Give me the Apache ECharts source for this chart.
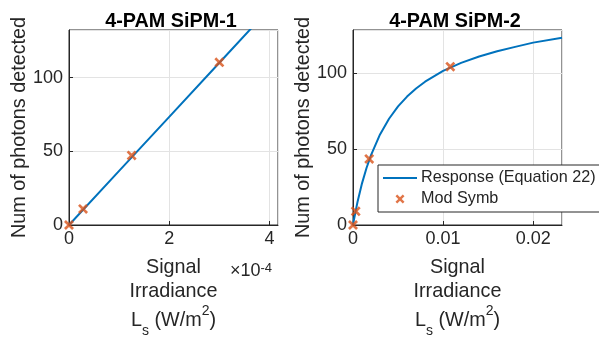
<!DOCTYPE html>
<html>
<head>
<meta charset="utf-8">
<script src="https://cdn.jsdelivr.net/npm/echarts@6/dist/echarts.min.js"></script>
<style>
  html, body { margin: 0; padding: 0; background: #fff; }
  #chart { width: 599px; height: 341px; }
</style>
</head>
<body>
<div id="chart"></div>
<script>
// SiPM-1 response (linear region) and symbol levels
const sipm1LineX = [0, 1e-4, 2e-4, 3e-4, 3.7e-4];
const sipm1LineY = [0, 36.7, 73.4, 110.1, 135.8];
const sipm1SymX = [0, 0.28e-4, 1.25e-4, 3.0e-4];
const sipm1SymY = [0, 10.9, 47.2, 110.4];

// SiPM-2 response (saturating) and symbol levels
const sipm2LineX = [0, 0.0001, 0.0003, 0.0005, 0.001, 0.0015, 0.002, 0.003, 0.004, 0.005,
  0.006, 0.007, 0.008, 0.01, 0.012, 0.014, 0.016, 0.018, 0.02, 0.0232];
const sipm2LineY = [0, 3.3, 9.3, 15.1, 27.4, 37.5, 46, 59.6, 69.9, 78,
  84.5, 89.8, 94.3, 101.4, 106.7, 110.9, 114.3, 117.2, 120, 123.2];
const sipm2SymX = [0, 0.0003, 0.0018, 0.0108];
const sipm2SymY = [0, 9, 43.5, 104.2];

const titles = ["4-PAM SiPM-1", "4-PAM SiPM-2"];
const seriesNames = ["Response (Equation 22)", "Mod Symb"];
const yName = "Num of photons detected";

const FONT = "Liberation Sans";
const INK = "#262626";
const BLUE = "#0072BD";
const ORANGE = "#D95319";
// bold x marker
const XMARK = "path://M0,1.9 L1.9,0 L5,3.1 L8.1,0 L10,1.9 L6.9,5 L10,8.1 L8.1,10 L5,6.9 L1.9,10 L0,8.1 L3.1,5 Z";
const LINEICON = "path://M0,0 L34,0 L34,2 L0,2 Z";

const zip = (xs, ys) => xs.map((x, i) => [x, ys[i]]);

const xName = "Signal\nIrradiance\n{n|L}{sub|s}{n| (W/m}{sup|2}{n|)}";
const xNameStyle = {
  fontFamily: FONT, fontSize: 19.8, color: INK, lineHeight: 24,
  rich: {
    n: { fontFamily: FONT, fontSize: 19.8, color: INK, lineHeight: 34 },
    sub: { fontFamily: FONT, fontSize: 14, color: INK, verticalAlign: "bottom", lineHeight: 15 },
    sup: { fontFamily: FONT, fontSize: 14, color: INK, verticalAlign: "top", lineHeight: 33 }
  }
};

const frameTick = { show: true, inside: true, length: 4, lineStyle: { color: INK } };
const gridLine = { show: true, lineStyle: { color: "#e3e3e3", width: 1 } };

function mainX(grid, max, interval, fmt) {
  return {
    type: "value", gridIndex: grid, min: 0, max: max, interval: interval,
    position: "bottom",
    name: xName, nameLocation: "middle", nameGap: 31, nameTextStyle: xNameStyle,
    axisLine: { show: true, onZero: false, lineStyle: { color: INK, width: 1 } },
    axisTick: frameTick,
    axisLabel: { show: true, showMaxLabel: false, margin: 5, color: INK, fontFamily: FONT, fontSize: 18, formatter: fmt },
    splitLine: gridLine
  };
}
function mainY(grid, max) {
  return {
    type: "value", gridIndex: grid, min: 0, max: max, interval: 50, position: "left",
    name: yName, nameLocation: "middle", nameGap: 38,
    nameTextStyle: { fontFamily: FONT, fontSize: 19.8, color: INK },
    axisLine: { show: true, onZero: false, lineStyle: { color: INK, width: 1 } },
    axisTick: frameTick,
    axisLabel: { show: true, showMaxLabel: false, margin: 6, color: INK, fontFamily: FONT, fontSize: 18 },
    splitLine: gridLine
  };
}

function lineSeries(idx, data) {
  return {
    name: seriesNames[0], type: "line", xAxisIndex: idx, yAxisIndex: idx,
    data: data, symbol: "none", smooth: false, clip: true,
    lineStyle: { color: BLUE, width: 2 }, itemStyle: { color: BLUE }, z: 3
  };
}
function symSeries(idx, data) {
  return {
    name: seriesNames[1], type: "scatter", xAxisIndex: idx, yAxisIndex: idx,
    data: data, symbol: XMARK, symbolSize: 10,
    itemStyle: { color: ORANGE }, z: 4
  };
}

const chart = echarts.init(document.getElementById("chart"), null, { renderer: "canvas" });

const gridBase = {
  top: 30, width: 209, height: 195, containLabel: false, outerBoundsMode: "none",
  show: true, borderColor: INK, borderWidth: 1, backgroundColor: "transparent"
};

chart.setOption({
  animation: false,
  backgroundColor: "#fff",
  textStyle: { fontFamily: FONT },
  title: [
    { text: titles[0], left: 166, top: 7, textAlign: "center",
      textStyle: { fontFamily: FONT, fontWeight: "bold", fontSize: 19.8, color: "#000" } },
    { text: titles[1], left: 450, top: 7, textAlign: "center",
      textStyle: { fontFamily: FONT, fontWeight: "bold", fontSize: 19.8, color: "#000" } }
  ],
  grid: [
    Object.assign({ left: 69 }, gridBase),
    Object.assign({ left: 353 }, gridBase)
  ],
  xAxis: [
    mainX(0, 4.17e-4, 2e-4, v => String(Math.round(v / 1e-4 * 100) / 100)),
    mainX(1, 0.0232, 0.01, v => String(Math.round(v * 1000) / 1000))
  ],
  yAxis: [
    mainY(0, 132.3),
    mainY(1, 128.3)
  ],
  legend: {
    data: [
      { name: seriesNames[0], icon: LINEICON, itemStyle: { color: BLUE } },
      { name: seriesNames[1], icon: XMARK, itemStyle: { color: ORANGE } }
    ],
    orient: "vertical",
    left: 378, top: 165,
    itemWidth: 34, itemHeight: 9, itemGap: 5, symbolKeepAspect: true,
    padding: [5, 4, 5, 5],
    backgroundColor: "#fff",
    borderColor: INK, borderWidth: 1, borderRadius: 0,
    textStyle: { fontFamily: FONT, fontSize: 16.2, color: INK, padding: [0, 0, 0, -1] },
    selectedMode: false
  },
  graphic: [
    {
      type: "text", left: 230, top: 262,
      style: {
        text: "×10{e|-4}",
        fontFamily: FONT, fontSize: 18, fill: INK,
        rich: { e: { fontFamily: FONT, fontSize: 13, fill: INK, verticalAlign: "top", lineHeight: 8 } }
      }
    }
  ],
  series: [
    lineSeries(0, zip(sipm1LineX, sipm1LineY)),
    symSeries(0, zip(sipm1SymX, sipm1SymY)),
    lineSeries(1, zip(sipm2LineX, sipm2LineY)),
    symSeries(1, zip(sipm2SymX, sipm2SymY))
  ]
});
</script>
</body>
</html>
